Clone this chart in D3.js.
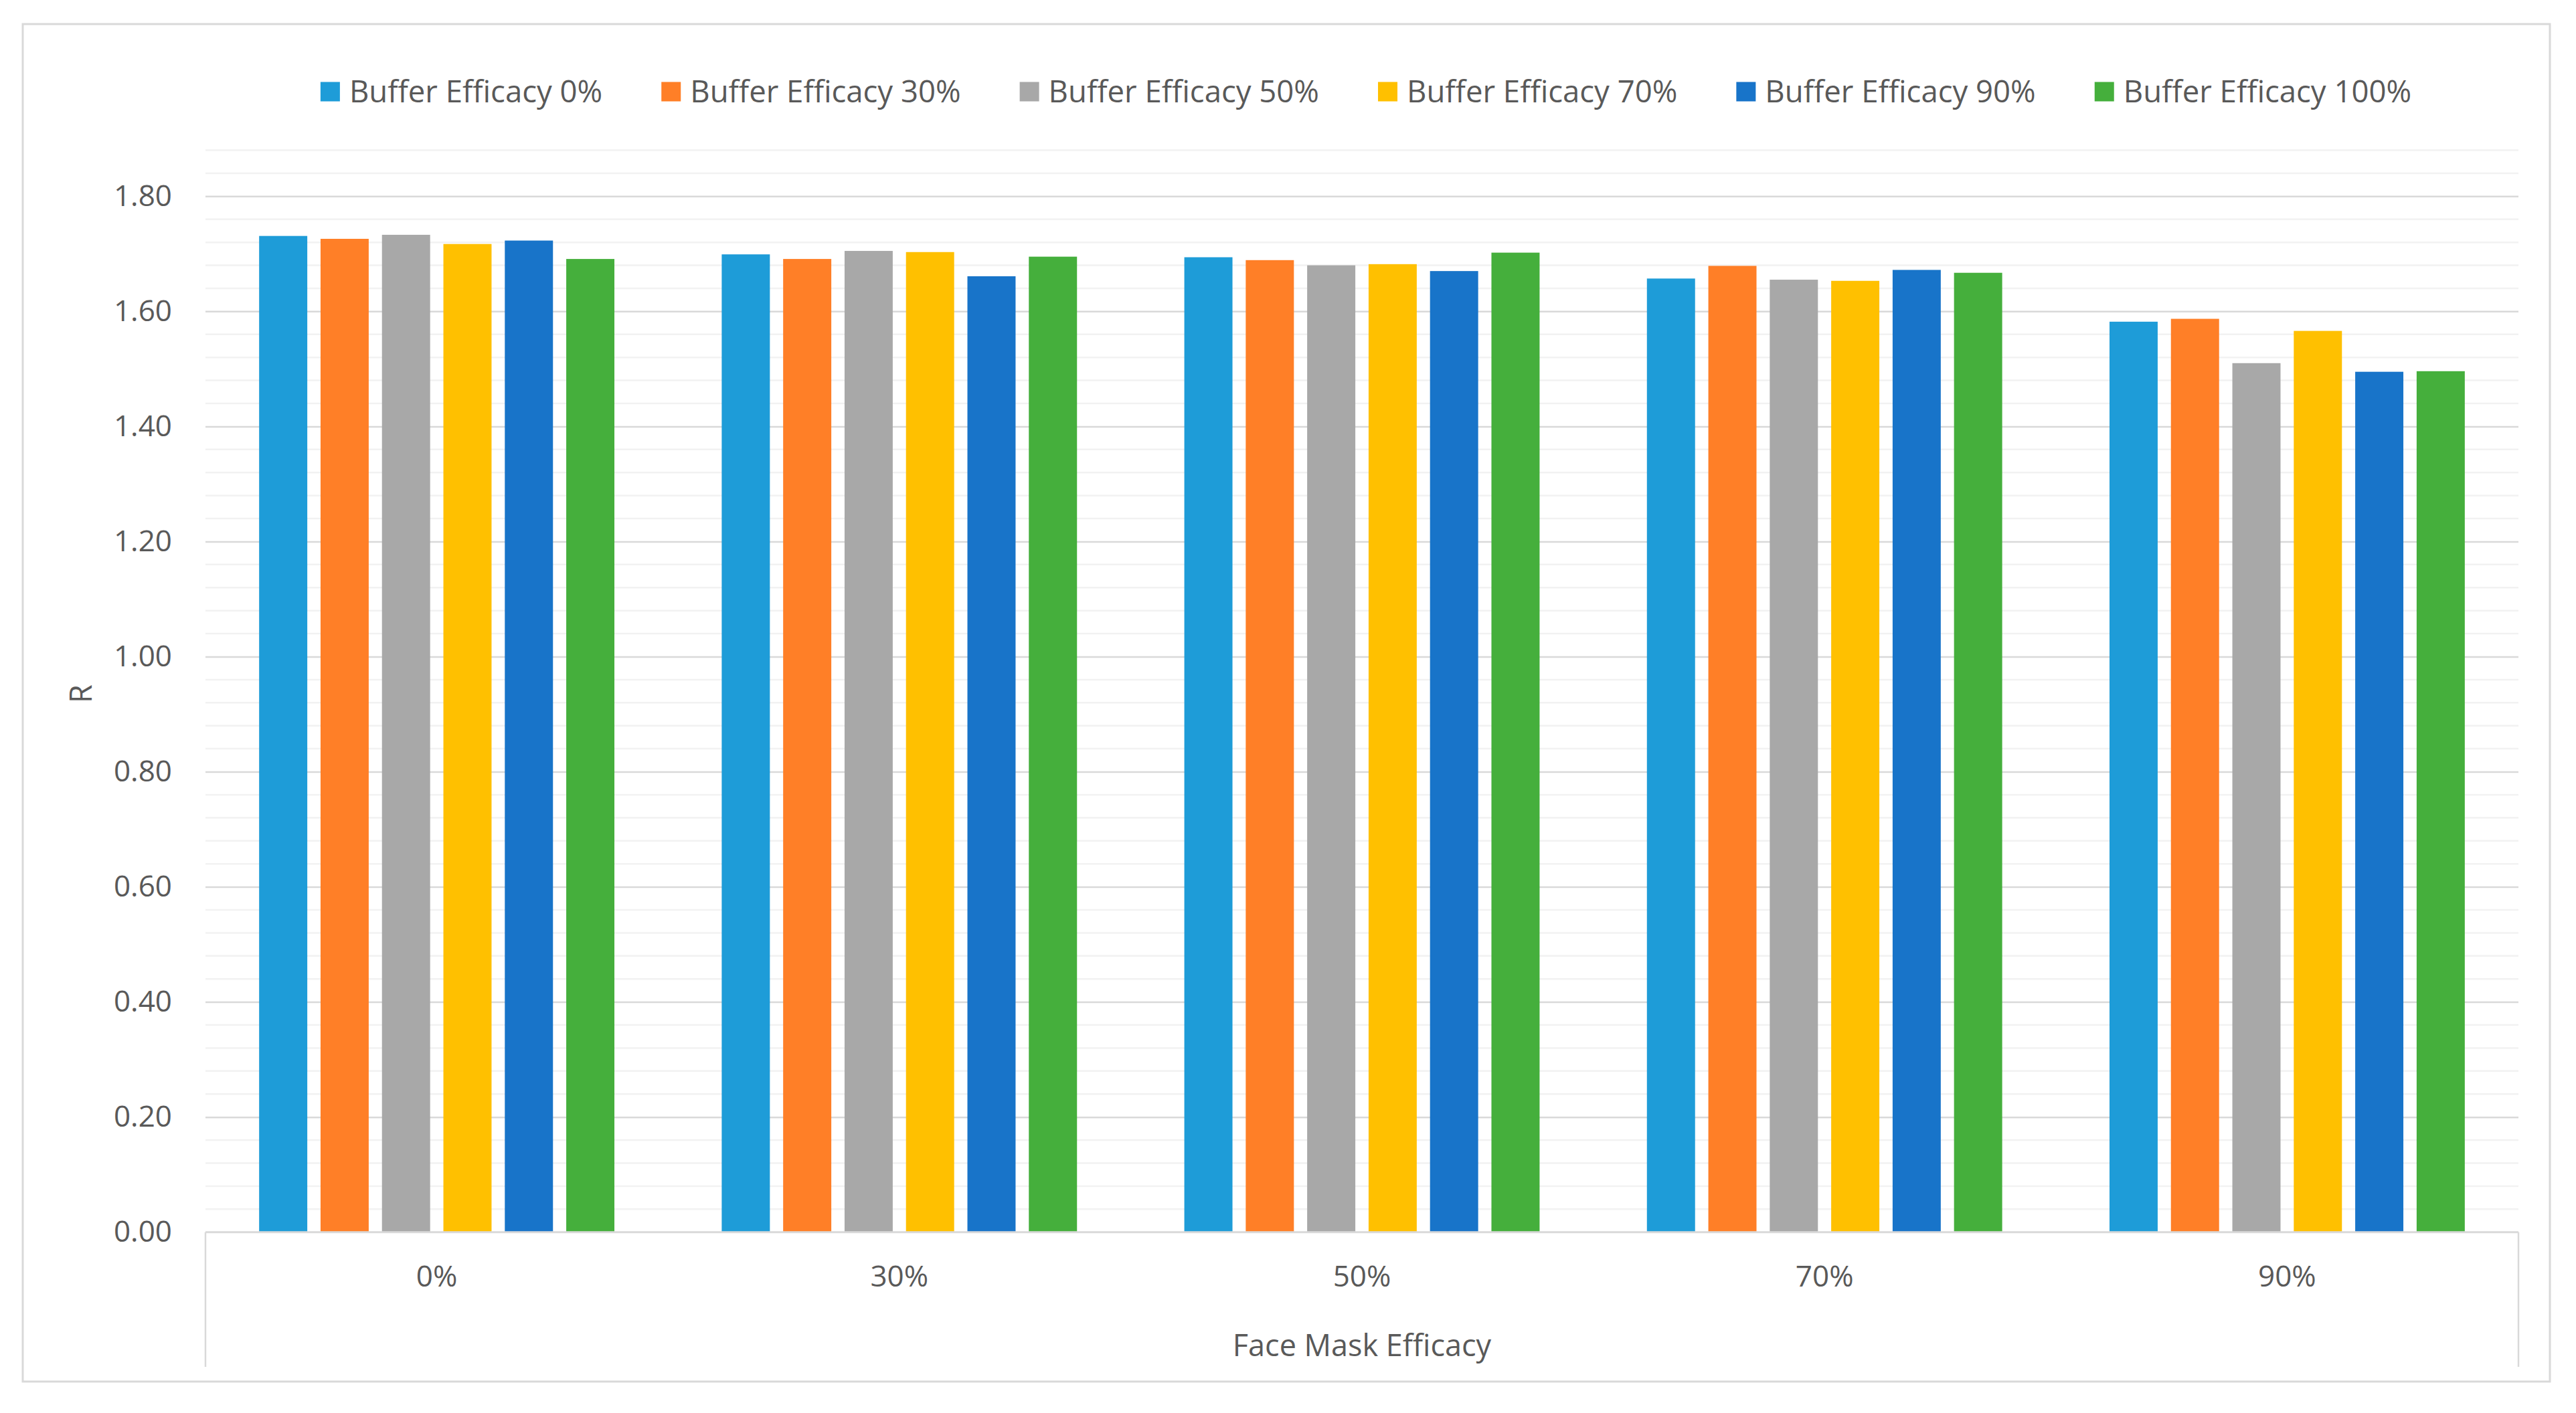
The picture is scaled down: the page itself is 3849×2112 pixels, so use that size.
<!DOCTYPE html>
<html lang="en">
<head>
  <meta charset="UTF-8">
  <title>R by Face Mask Efficacy and Buffer Efficacy</title>
  <script src="https://d3js.org/d3.v7.min.js"></script>
  <style>
    html, body { margin: 0; padding: 0; background: #fff; }
    text { font-family: "Open Sans", "Noto Sans", sans-serif; fill: #595959; }
  </style>
</head>
<body>
<svg id="chart" width="3849" height="2112"></svg>

<script>
  // Categories and series
  const maskEfficacy = ["0%", "30%", "50%", "70%", "90%"];
  const bufferSeries = ["Buffer Efficacy 0%", "Buffer Efficacy 30%", "Buffer Efficacy 50%",
                        "Buffer Efficacy 70%", "Buffer Efficacy 90%", "Buffer Efficacy 100%"];

  // Values per series (one per face mask category)
  const buffer0   = [1.731, 1.699, 1.694, 1.657, 1.582];
  const buffer30  = [1.726, 1.691, 1.689, 1.679, 1.587];
  const buffer50  = [1.733, 1.705, 1.680, 1.655, 1.510];
  const buffer70  = [1.717, 1.703, 1.682, 1.653, 1.566];
  const buffer90  = [1.723, 1.661, 1.670, 1.672, 1.495];
  const buffer100 = [1.691, 1.695, 1.702, 1.667, 1.496];
  const seriesValues = [buffer0, buffer30, buffer50, buffer70, buffer90, buffer100];

  const yTicks = [0, 0.2, 0.4, 0.6, 0.8, 1.0, 1.2, 1.4, 1.6, 1.8];
  const yMax = 1.88;

  const colors = ["#1e9cd8", "#ff7f27", "#a8a8a8", "#ffc000", "#1874c9", "#45af3c"];

  // Layout
  const width = 3849, height = 2112;
  const plot = { left: 307, right: 3763, top: 224.5, bottom: 1841.7 };

  const svg = d3.select("#chart");

  // Outer chart border
  svg.append("rect")
     .attr("x", 34).attr("y", 36)
     .attr("width", 3810 - 34).attr("height", 2065 - 36)
     .attr("fill", "#fff")
     .attr("stroke", "#d9d9d9")
     .attr("stroke-width", 3);

  // Scales
  const x0 = d3.scaleBand()
               .domain(maskEfficacy)
               .range([plot.left, plot.right])
               .paddingInner(0.232)
               .paddingOuter(0.116);

  const x1 = d3.scaleBand()
               .domain(bufferSeries)
               .range([0, x0.bandwidth()])
               .paddingInner(0.216);

  const y = d3.scaleLinear()
              .domain([0, yMax])
              .range([plot.bottom, plot.top]);

  // Minor gridlines (every 0.04, up to the top of the plot)
  const minorTicks = d3.range(0, 48).map(i => +(i * 0.04).toFixed(2))
                       .filter(v => !yTicks.some(t => Math.abs(t - v) < 1e-6));
  svg.append("g")
     .selectAll("line")
     .data(minorTicks)
     .join("line")
     .attr("x1", plot.left).attr("x2", plot.right)
     .attr("y1", d => y(d)).attr("y2", d => y(d))
     .attr("stroke", "#f2f2f2")
     .attr("stroke-width", 2.5);

  // Major gridlines + labels via axis
  const yAxis = svg.append("g")
     .attr("transform", `translate(${plot.left},0)`)
     .call(d3.axisLeft(y)
             .tickValues(yTicks)
             .tickSize(-(plot.right - plot.left))
             .tickPadding(50)
             .tickFormat(d3.format(".2f")));
  yAxis.select(".domain").remove();
  yAxis.selectAll(".tick line")
       .attr("stroke", d => d === 0 ? "none" : "#d9d9d9")
       .attr("stroke-width", 2.5);
  yAxis.selectAll(".tick text")
       .attr("font-size", 44)
       .attr("fill", "#595959")
       .style("font-family", "'Open Sans', sans-serif");

  // Bars
  const groups = svg.append("g")
     .selectAll("g")
     .data(maskEfficacy)
     .join("g")
     .attr("transform", d => `translate(${x0(d)},0)`);

  groups.selectAll("rect")
     .data((d, i) => bufferSeries.map((s, j) => ({ series: s, value: seriesValues[j][i], idx: j })))
     .join("rect")
     .attr("x", d => x1(d.series))
     .attr("y", d => y(d.value))
     .attr("width", x1.bandwidth())
     .attr("height", d => y(0) - y(d.value))
     .attr("fill", d => colors[d.idx]);

  // Category axis: baseline and box sides
  const axisBoxBottom = 2043;
  svg.append("line")
     .attr("x1", plot.left).attr("x2", plot.right)
     .attr("y1", y(0)).attr("y2", y(0))
     .attr("stroke", "#d9d9d9").attr("stroke-width", 3);
  svg.append("g")
     .selectAll("line")
     .data([plot.left, plot.right])
     .join("line")
     .attr("x1", d => d).attr("x2", d => d)
     .attr("y1", y(0)).attr("y2", axisBoxBottom)
     .attr("stroke", "#d9d9d9").attr("stroke-width", 2.5);

  const xAxis = svg.append("g")
     .attr("transform", `translate(0,${y(0)})`)
     .call(d3.axisBottom(x0).tickSize(0).tickPadding(50));
  xAxis.select(".domain").remove();
  xAxis.selectAll(".tick text")
       .attr("font-size", 44)
       .attr("fill", "#595959")
       .style("font-family", "'Open Sans', sans-serif");

  // Axis titles
  svg.append("text")
     .attr("x", (plot.left + plot.right) / 2)
     .attr("y", 2027)
     .attr("text-anchor", "middle")
     .attr("font-size", 45)
     .text("Face Mask Efficacy");

  svg.append("text")
     .attr("transform", `translate(137,${(plot.top + plot.bottom) / 2 + 4}) rotate(-90)`)
     .attr("text-anchor", "middle")
     .attr("font-size", 45)
     .text("R");

  // Legend
  const legend = svg.append("g");
  const items = legend.selectAll("g")
     .data(bufferSeries)
     .join("g");
  items.append("rect")
     .attr("width", 29).attr("height", 29)
     .attr("y", -14.5)
     .attr("fill", (d, i) => colors[i]);
  items.append("text")
     .attr("x", 43)
     .attr("dy", "0.35em")
     .attr("font-size", 45.5)
     .text(d => d);

  const itemGap = 88;
  let cursor = 0;
  const offsets = [];
  items.each(function() {
    const w = 43 + this.querySelector("text").getComputedTextLength();
    offsets.push(cursor);
    cursor += w + itemGap;
  });
  const totalW = cursor - itemGap;
  const legendStart = 2041 - totalW / 2;
  items.attr("transform", (d, i) => `translate(${legendStart + offsets[i]},137)`);
</script>
</body>
</html>
